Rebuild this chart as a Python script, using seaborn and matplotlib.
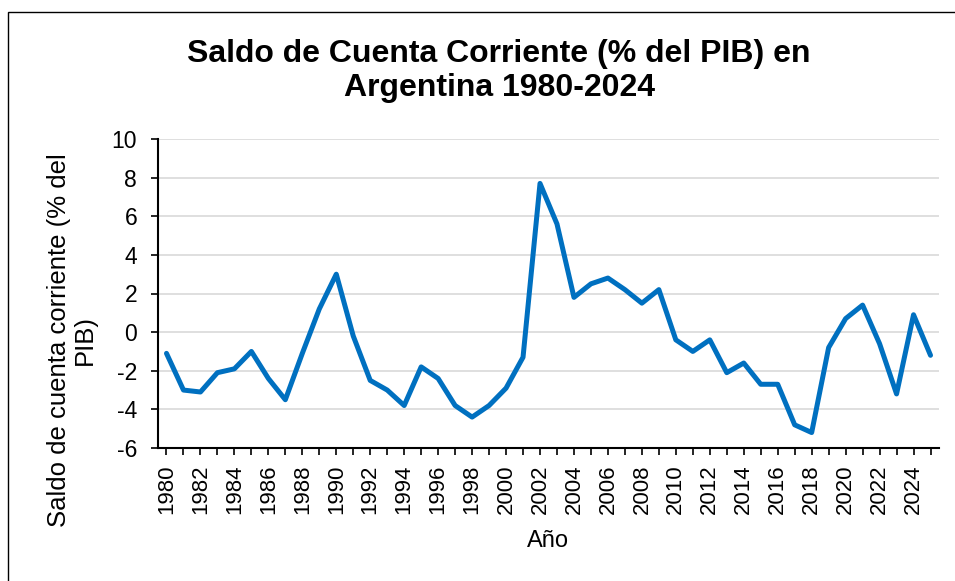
import numpy as np
import pandas as pd
import matplotlib
matplotlib.use('Agg')
import matplotlib.pyplot as plt
import seaborn as sns
from matplotlib.patches import Rectangle

# Datos: saldo de cuenta corriente (% del PIB), Argentina
years = list(range(1980, 2026))
saldo = [-1.1, -3.0, -3.1, -2.1, -1.9, -1.0, -2.4, -3.5, -1.1, 1.2,
         3.0, -0.2, -2.5, -3.0, -3.8, -1.8, -2.4, -3.8, -4.4, -3.8,
         -2.9, -1.3, 7.7, 5.6, 1.8, 2.5, 2.8, 2.2, 1.5, 2.2,
         -0.4, -1.0, -0.4, -2.1, -1.6, -2.7, -2.7, -4.8, -5.2, -0.8,
         0.7, 1.4, -0.6, -3.2, 0.9, -1.2]
y_ticks = list(range(-6, 11, 2))

df = pd.DataFrame({'Año': years, 'Saldo': saldo})

sns.set_style('white')
plt.rcParams['font.family'] = ['Liberation Sans', 'DejaVu Sans']
plt.rcParams['text.color'] = 'black'
plt.rcParams['xtick.color'] = 'black'
plt.rcParams['ytick.color'] = 'black'

fig = plt.figure(figsize=(9.55, 5.81), dpi=100)
ax = fig.add_axes([158 / 955, 1 - 448 / 581, (939 - 158) / 955, (448 - 139) / 581])

sns.lineplot(data=df, x='Año', y='Saldo', ax=ax, color='#0070C0', linewidth=3.6)

ax.set_xlim(years[0] - 0.5, years[-1] + 0.5)
ax.set_ylim(-6, 10)
ax.set_yticks(y_ticks)
ax.set_yticklabels([str(v) for v in y_ticks], fontsize=16.5)
ax.set_xticks(years)
ax.set_xticklabels([str(y) if (y - 1980) % 2 == 0 else '' for y in years],
                   rotation=90, fontsize=16)
ax.grid(axis='y', color='#D9D9D9', linewidth=1.2)
ax.set_axisbelow(True)

for side in ['top', 'right']:
    ax.spines[side].set_visible(False)
for side in ['left', 'bottom']:
    ax.spines[side].set_color('black')
    ax.spines[side].set_linewidth(1.5)
ax.tick_params(axis='both', direction='out', length=5, width=1.2, color='black',
               labelcolor='black', left=True, bottom=True)
ax.tick_params(axis='x', pad=7)
ax.tick_params(axis='y', pad=10)

ax.set_xlabel('')
ax.set_ylabel('')
fig.text(548 / 955, 1 - 541 / 581, 'Año', ha='center', va='center', fontsize=17,
         color='black')
fig.text(72 / 955, 1 - 340 / 581, 'Saldo de cuenta corriente (% del\nPIB)',
         rotation=90, ha='center', va='center', multialignment='center', fontsize=18.5,
         linespacing=1.1, color='black')

fig.text(499 / 955, 1 - 71 / 581, 'Saldo de Cuenta Corriente (% del PIB) en\nArgentina 1980-2024',
         ha='center', va='center', fontsize=23, fontweight='bold', linespacing=1.15,
         color='black')

# marco del gráfico
fig.patches.append(Rectangle((8 / 955, -0.1), 1.2, 1 - 12 / 581 + 0.1,
                             transform=fig.transFigure, fill=False,
                             edgecolor='black', linewidth=1.0))

fig.savefig('out.png', dpi=100)
